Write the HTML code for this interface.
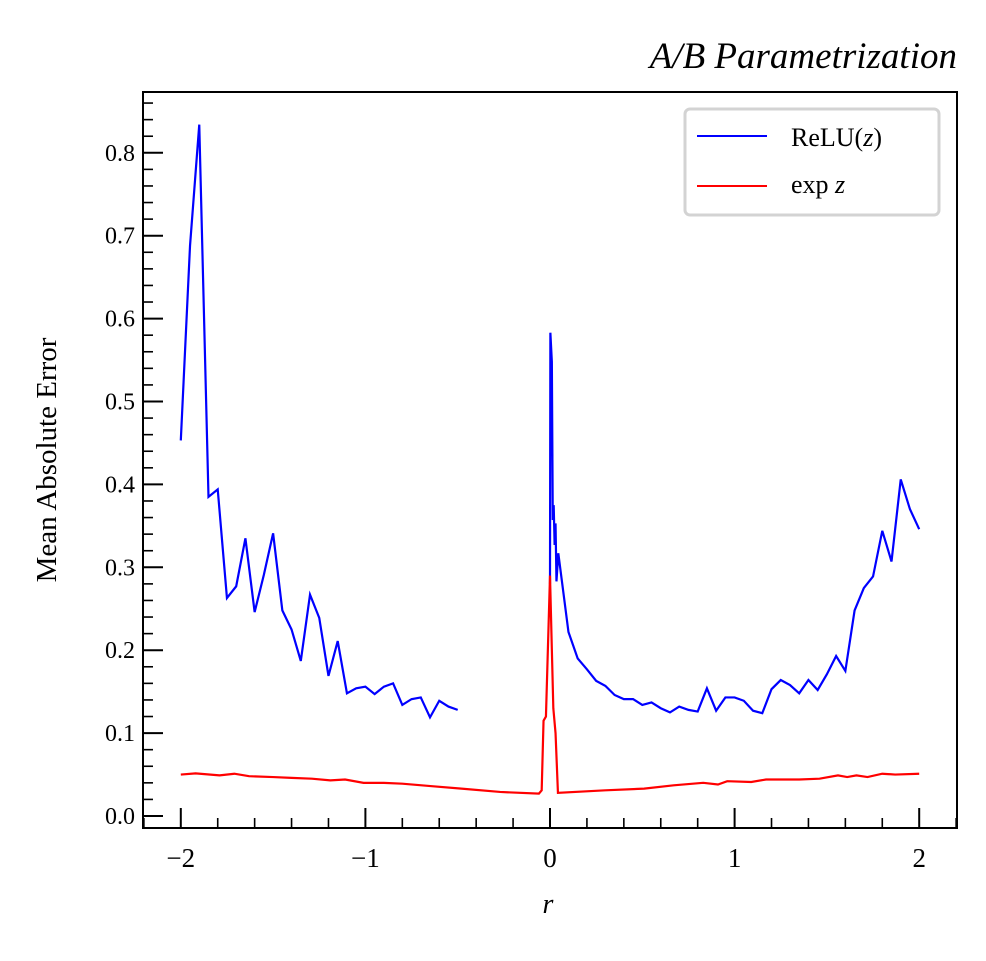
<!DOCTYPE html>
<html><head><meta charset="utf-8"><style>
body{margin:0;background:#fff;}
svg text{font-family:"Liberation Serif","DejaVu Serif",serif;fill:#000;}
</style></head><body>
<svg id="chart" width="986" height="956" viewBox="0 0 986 956" xmlns="http://www.w3.org/2000/svg">
<g id="marks"></g>
<g id="axes"></g>
</svg>
<script>
const reluR = [-2,-1.95,-1.9,-1.85,-1.8,-1.75,-1.7,-1.65,-1.6,-1.55,-1.5,-1.45,-1.4,-1.35,-1.3,-1.25,-1.2,-1.15,-1.1,-1.05,-1.0,-0.95,-0.9,-0.85,-0.8,-0.75,-0.7,-0.65,-0.6,-0.55,-0.5];
const reluLeft = [0.453,0.688,0.834,0.385,0.394,0.263,0.277,0.335,0.246,0.291,0.341,0.248,0.225,0.187,0.267,0.239,0.169,0.211,0.148,0.154,0.156,0.147,0.156,0.160,0.134,0.141,0.143,0.119,0.139,0.132,0.128];
const reluR2 = [0,0.002,0.01,0.015,0.02,0.025,0.03,0.035,0.045,0.1,0.15,0.2,0.25,0.3,0.35,0.4,0.45,0.5,0.55,0.6,0.65,0.7,0.75,0.8,0.85,0.9,0.95,1.0,1.05,1.1,1.15,1.2,1.25,1.3,1.35,1.4,1.45,1.5,1.55,1.6,1.65,1.7,1.75,1.8,1.85,1.9,1.95,2.0];
const reluRight = [0.28,0.583,0.548,0.357,0.375,0.327,0.353,0.283,0.317,0.222,0.190,0.177,0.163,0.157,0.146,0.141,0.141,0.134,0.137,0.130,0.125,0.132,0.128,0.126,0.154,0.127,0.143,0.143,0.139,0.127,0.124,0.153,0.164,0.158,0.148,0.164,0.152,0.171,0.193,0.175,0.248,0.275,0.289,0.344,0.307,0.406,0.370,0.346];
const expR = [-2,-1.92,-1.79,-1.71,-1.63,-1.5,-1.4,-1.29,-1.19,-1.11,-1.01,-0.9,-0.8,-0.64,-0.48,-0.27,-0.06,-0.045,-0.035,-0.022,0,0.018,0.03,0.043,0.3,0.51,0.67,0.83,0.91,0.96,1.09,1.17,1.3,1.35,1.46,1.56,1.61,1.66,1.72,1.8,1.87,2.0];
const expVals = [0.050,0.0514,0.049,0.051,0.048,0.047,0.046,0.045,0.043,0.044,0.040,0.040,0.039,0.036,0.033,0.029,0.027,0.031,0.115,0.12,0.29,0.13,0.10,0.028,0.031,0.033,0.037,0.040,0.038,0.042,0.041,0.044,0.044,0.044,0.045,0.049,0.047,0.049,0.047,0.051,0.050,0.051];
const xTicks = [-2,-1,0,1,2];
const xTickLabels = ["\u22122","\u22121","0","1","2"];
const yTicks = [0,0.1,0.2,0.3,0.4,0.5,0.6,0.7,0.8];
const yTickLabels = ["0.0","0.1","0.2","0.3","0.4","0.5","0.6","0.7","0.8"];

const X0=143,X1=957,Y0=92,Y1=828;
function sx(r){return 550+r*184.6;}
function sy(v){return 816-v*829;}
const NS="http://www.w3.org/2000/svg";
function mk(tag,attrs,parent){const e=document.createElementNS(NS,tag);for(const k in attrs)e.setAttribute(k,attrs[k]);parent.appendChild(e);return e;}
const marks=document.getElementById('marks');
const axes=document.getElementById('axes');
function line(xs,ys,color,name){
  const d=xs.map((r,i)=>(i?'L':'M')+sx(r).toFixed(2)+','+sy(ys[i]).toFixed(2)).join(' ');
  const p=mk('path',{d:d,fill:'none',stroke:color,'stroke-width':2.2,'stroke-linejoin':'miter'},marks);
  
  
}
line(reluR,reluLeft,'#0000ff','relu-line-left');
line(reluR2,reluRight,'#0000ff','relu-line-right');
line(expR,expVals,'#ff0000','exp-line');

const fr=mk('rect',{x:X0,y:Y0,width:X1-X0,height:Y1-Y0,fill:'none',stroke:'#000','stroke-width':2},axes);


xTicks.forEach((t,i)=>{
  const x=sx(t);
  const tk=mk('line',{x1:x,x2:x,y1:Y1,y2:Y1-20,stroke:'#000','stroke-width':2},axes);
  
  
  const tx=mk('text',{x:x,y:Y1+39,'text-anchor':'middle','font-size':27},axes);
  tx.textContent=xTickLabels[i];
  
  
});
for(let r=-2.2;r<=2.21;r+=0.2){
  const rr=Math.round(r*10)/10;
  if(Math.abs(rr-Math.round(rr))<1e-6)continue;
  const x=sx(rr); if(x<X0||x>X1)continue;
  const m=mk('line',{x1:x,x2:x,y1:Y1,y2:Y1-10,stroke:'#000','stroke-width':1.6},axes);
  
  
}
yTicks.forEach((t,i)=>{
  const y=sy(t);
  const tk=mk('line',{x1:X0,x2:X0+20,y1:y,y2:y,stroke:'#000','stroke-width':2},axes);
  
  
  const tx=mk('text',{x:X0-8,y:y+8,'text-anchor':'end','font-size':24},axes);
  tx.textContent=yTickLabels[i];
  
  
});
for(let k=-1;k<=44;k++){
  if(k%5===0)continue;
  const y=sy(k*0.02); if(y<Y0||y>Y1)continue;
  const m=mk('line',{x1:X0,x2:X0+10,y1:y,y2:y,stroke:'#000','stroke-width':1.6},axes);
  
  
}
</script>
<svg style="position:absolute;left:0;top:0" width="986" height="956" xmlns="http://www.w3.org/2000/svg">
<text x="957" y="68" text-anchor="end" font-size="37" font-style="italic">A/B Parametrization</text>
<text x="548" y="913" text-anchor="middle" font-size="28" font-style="italic">r</text>
<text transform="translate(56,460) rotate(-90)" text-anchor="middle" font-size="29">Mean Absolute Error</text>
<g>
<rect x="685" y="109" width="254" height="106" rx="5" fill="#fff" stroke="#d3d3d3" stroke-width="3"/>
<line x1="697" y1="136" x2="767" y2="136" stroke="#0000ff" stroke-width="2"/>
<text x="791" y="146" font-size="26">ReLU(<tspan font-style="italic">z</tspan>)</text>
<line x1="697" y1="186" x2="767" y2="186" stroke="#ff0000" stroke-width="2"/>
<text x="791" y="193" font-size="26">exp <tspan font-style="italic">z</tspan></text>
</g>
</svg>
</body></html>
